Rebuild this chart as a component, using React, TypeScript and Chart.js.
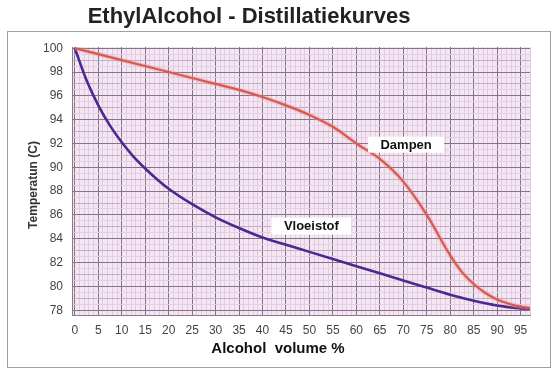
import React, { useEffect, useRef } from "react";
import { Chart, registerables } from "chart.js";

Chart.register(...registerables);

const chartTitle = "EthylAlcohol - Distillatiekurves";
const xTitle = "Alcohol  volume %";
const yTitle = "Temperatun (C)";

const vaporName = "Dampen";
const vaporX = [0, 5, 10, 15, 20, 25, 30, 35, 40, 45, 50, 55, 60, 65, 70, 75, 80, 82.5, 85, 87.5, 90, 92.5, 95, 97];
const vaporY = [100, 99.5, 99.0, 98.5, 98.0, 97.5, 97.0, 96.5, 95.9, 95.2, 94.4, 93.4, 92.0, 90.7, 88.8, 86.0, 82.6, 81.2, 80.2, 79.45, 78.9, 78.55, 78.3, 78.2];

const liquidName = "Vloeistof";
const liquidX = [0, 2.5, 5, 7.5, 10, 12.5, 15, 17.5, 20, 25, 30, 35, 40, 45, 50, 55, 60, 65, 70, 75, 80, 85, 90, 95, 97];
const liquidY = [100, 97.3, 95.2, 93.5, 92.1, 90.9, 89.9, 89.0, 88.2, 86.9, 85.8, 84.9, 84.1, 83.5, 82.9, 82.3, 81.7, 81.1, 80.5, 79.9, 79.3, 78.8, 78.4, 78.15, 78.1];

const xTickLabels = [0, 5, 10, 15, 20, 25, 30, 35, 40, 45, 50, 55, 60, 65, 70, 75, 80, 85, 90, 95];
const yTickLabels = [78, 80, 82, 84, 86, 88, 90, 92, 94, 96, 98, 100];

// label anchor positions in data units
const vaporLabelAt = [70.6, 91.9];
const liquidLabelAt = [50.4, 85.07];

const FONT = "'Liberation Sans', Arial, sans-serif";

const decorPlugin = {
  id: "decor",
  beforeDraw(chart: any) {
    const { ctx, chartArea: a } = chart;
    ctx.save();
    ctx.fillStyle = "#ffffff";
    ctx.fillRect(0, 0, chart.width, chart.height);
    ctx.fillStyle = "#f4e6f3";
    ctx.fillRect(a.left, a.top, a.right - a.left, a.bottom - a.top);
    ctx.restore();
  },
  afterDatasetsDraw(chart: any) {
    const { ctx, scales } = chart;
    const xs = scales.x;
    const ys = scales.y;
    ctx.save();
    const drawBoxLabel = (text: string, at: number[], w: number, h: number) => {
      const cx = xs.getPixelForValue(at[0]);
      const cy = ys.getPixelForValue(at[1]);
      ctx.fillStyle = "#ffffff";
      ctx.fillRect(cx - w / 2, cy - h / 2, w, h);
      ctx.fillStyle = "#111111";
      ctx.font = `bold 13px ${FONT}`;
      ctx.textAlign = "center";
      ctx.textBaseline = "middle";
      ctx.fillText(text, cx, cy + 0.5);
    };
    drawBoxLabel(vaporName, vaporLabelAt, 76, 16);
    drawBoxLabel(liquidName, liquidLabelAt, 80, 17);
    ctx.restore();
  },
  afterDraw(chart: any) {
    const { ctx } = chart;
    ctx.save();
    // outer frame
    ctx.strokeStyle = "#a0a0a0";
    ctx.lineWidth = 1;
    ctx.strokeRect(7.5, 31.5, 543, 336);
    // title
    ctx.fillStyle = "#222222";
    ctx.font = `bold 22px ${FONT}`;
    ctx.textAlign = "center";
    ctx.textBaseline = "middle";
    ctx.fillText(chartTitle, 249, 17);
    // x title
    ctx.fillStyle = "#111111";
    ctx.font = `bold 15px ${FONT}`;
    ctx.fillText(xTitle, 278, 349);
    // y title
    ctx.translate(34, 185);
    ctx.rotate(-Math.PI / 2);
    ctx.font = `bold 12px ${FONT}`;
    ctx.fillStyle = "#333333";
    ctx.fillText(yTitle, 0, 0);
    ctx.restore();
  },
};

export default function App() {
  const ref = useRef<HTMLCanvasElement | null>(null);

  useEffect(() => {
    if (!ref.current) return;
    const xMinor: number[] = [];
    for (let v = 0; v <= 97; v += 1) xMinor.push(v);
    const yMinor: number[] = [];
    for (let v = 78; v <= 100; v += 0.5) yMinor.push(v);

    const chart = new Chart(ref.current, {
      type: "line",
      data: {
        datasets: [
          {
            label: vaporName + " glow",
            data: vaporX.map((x, i) => ({ x, y: vaporY[i] })),
            borderColor: "rgba(240,150,150,0.35)",
            borderWidth: 5,
            pointRadius: 0,
            cubicInterpolationMode: "monotone",
          },
          {
            label: vaporName,
            data: vaporX.map((x, i) => ({ x, y: vaporY[i] })),
            borderColor: "#c8382c",
            borderWidth: 2.2,
            pointRadius: 0,
            cubicInterpolationMode: "monotone",
          },
          {
            label: liquidName,
            data: liquidX.map((x, i) => ({ x, y: liquidY[i] })),
            borderColor: "#4a2a8e",
            borderWidth: 2.6,
            pointRadius: 0,
            cubicInterpolationMode: "monotone",
          },
        ],
      },
      options: {
        responsive: false,
        animation: false,
        events: [],
        layout: { padding: { top: 47, right: 30, bottom: 0, left: 0 } },
        plugins: {
          legend: { display: false },
          title: { display: false },
          tooltip: { enabled: false },
        },
        scales: {
          x: {
            type: "linear",
            min: -0.6,
            max: 97,
            afterFit: (s: any) => {
              s.height = 57;
            },
            afterBuildTicks: (s: any) => {
              s.ticks = xMinor.map((v) => ({ value: v }));
            },
            ticks: {
              autoSkip: false,
              maxRotation: 0,
              padding: 8,
              color: "#444444",
              font: { family: FONT, size: 12 },
              callback: (v: any) => (xTickLabels.includes(Number(v)) ? String(v) : ""),
            },
            grid: {
              drawTicks: false,
              color: (c: any) => (c.tick && c.tick.value % 5 === 0 ? "#84748a" : "#e0cce1"),
              lineWidth: 1,
            },
            border: { display: true, color: "#8a7a8e" },
          },
          y: {
            type: "linear",
            min: 77.6,
            max: 100.1,
            afterFit: (s: any) => {
              s.width = 72;
            },
            afterBuildTicks: (s: any) => {
              s.ticks = yMinor.map((v) => ({ value: v }));
            },
            ticks: {
              autoSkip: false,
              padding: 9,
              color: "#444444",
              font: { family: FONT, size: 12 },
              callback: (v: any) => (yTickLabels.includes(Number(v)) ? String(v) : ""),
            },
            grid: {
              drawTicks: false,
              color: (c: any) => {
                const v = c.tick ? c.tick.value : 0;
                if (v % 2 === 0) return "#84748a";
                if (Number.isInteger(v)) return "#c2aec4";
                return "#e2cfe3";
              },
              lineWidth: 1,
            },
            border: { display: true, color: "#8a7a8e" },
          },
        },
      },
      plugins: [decorPlugin],
    } as any);
    return () => chart.destroy();
  }, []);

  return (
    <div style={{ position: "fixed", left: 0, top: 0, width: 560, height: 372, background: "#fff" }}>
      <canvas ref={ref} width={560} height={372} style={{ width: 560, height: 372, display: "block" }} />
    </div>
  );
}
